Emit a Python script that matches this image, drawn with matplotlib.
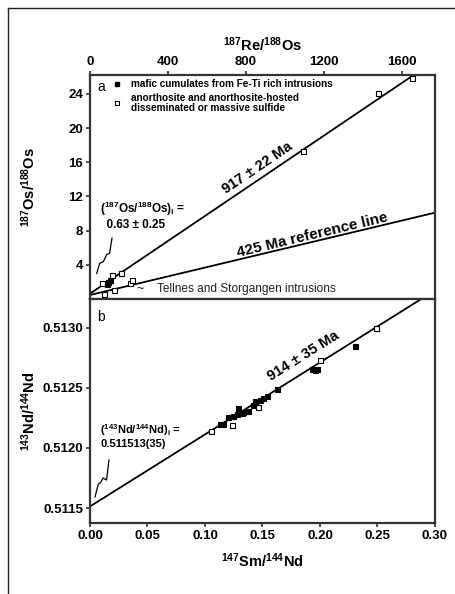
import numpy as np
import matplotlib
matplotlib.use('Agg')
import matplotlib.pyplot as plt
from matplotlib.lines import Line2D

plt.rcParams['font.family'] = ['Liberation Sans', 'DejaVu Sans']
plt.rcParams['mathtext.default'] = 'regular'

# --- Re-Os data (panel a) ---
reos_mafic_x = [86, 94, 103]
reos_mafic_y = [1.7, 2.0, 2.2]
reos_anor_x = [60, 111, 159, 1094, 1478, 1653]
reos_anor_y = [1.85, 2.8, 3.1, 17.3, 24.1, 25.9]
# Tellnes and Storgangen
reos_tel_x = [73, 125, 205, 217]
reos_tel_y = [0.6, 1.0, 1.85, 2.2]

os_initial = 0.63
os_isochron_slope = 0.0154
ref_x = [0, 1770]
ref_y = [0.47, 10.1]

# --- Sm-Nd data (panel b) ---
smnd_mafic_x = [0.113, 0.1154, 0.1203, 0.1247, 0.1275, 0.129, 0.132, 0.1334, 0.1377,
                0.142, 0.1435, 0.1478, 0.1507, 0.1536, 0.1623, 0.1928, 0.1957, 0.197, 0.2304]
smnd_mafic_y = [0.51220, 0.51220, 0.51226, 0.51227, 0.51228, 0.51233, 0.51229, 0.51230, 0.51231,
                0.51236, 0.51239, 0.51240, 0.51242, 0.51243, 0.51249, 0.51266, 0.51265, 0.51266, 0.51285]
smnd_anor_x = [0.1052, 0.1232, 0.1461, 0.2003, 0.2487]
smnd_anor_y = [0.512142, 0.512192, 0.512345, 0.51273, 0.51300]

nd_initial = 0.511513
nd_isochron_slope = 0.005996


def line_label(ax, x, slope, x0, y0, text, offset, size):
    # put a label along a straight line, shifted off it by `offset` points
    y = y0 + slope * (x - x0)
    dx = 1e-3 * ax.get_xlim()[1]
    p1 = ax.transData.transform((x, y))
    p2 = ax.transData.transform((x + dx, y + slope * dx))
    ang = np.degrees(np.arctan2(p2[1] - p1[1], p2[0] - p1[0]))
    a = np.radians(ang)
    ax.annotate(text, xy=(x, y), xytext=(-offset * np.sin(a), offset * np.cos(a)),
                textcoords='offset points', rotation=ang, rotation_mode='anchor',
                ha='center', va='baseline', fontsize=size, fontweight='bold')


fig = plt.figure(figsize=(4.55, 5.94), dpi=100)
axA = fig.add_axes([0.1978, 0.4966, 0.7582, 0.3771])
axB = fig.add_axes([0.1978, 0.1195, 0.7582, 0.3771])

# outer frame lines
fig.add_artist(Line2D([8/455, 8/455], [0, 1 - 8/594], color='#222222', lw=1.0))
fig.add_artist(Line2D([8/455, 1], [1 - 8/594, 1 - 8/594], color='#222222', lw=1.0))

spine_col = '#333333'
for ax in (axA, axB):
    for s in ax.spines.values():
        s.set_linewidth(1.6)
        s.set_color(spine_col)
    ax.tick_params(direction='out', length=3, width=1.2, color=spine_col,
                   labelsize=9.5, pad=2)

ms = 3.6

# panel a
xa = np.array([0, 1800])
axA.plot(xa, os_initial + os_isochron_slope * xa, color='black', lw=1.3, zorder=2)
axA.plot(ref_x, ref_y, color='black', lw=1.3, zorder=2)
axA.plot(reos_anor_x, reos_anor_y, 's', mfc='white', mec='black', ms=ms, mew=0.8, zorder=3)
axA.plot(reos_tel_x, reos_tel_y, 's', mfc='white', mec='black', ms=ms, mew=0.8, zorder=3)
axA.plot(reos_mafic_x, reos_mafic_y, 's', mfc='black', mec='black', ms=ms, mew=0.8, zorder=4)
axA.set_xlim(0, 1770)
axA.set_ylim(0, 26.2)
axA.xaxis.tick_top()
axA.xaxis.set_label_position('top')
axA.set_xticks([0, 400, 800, 1200, 1600])
axA.set_yticks([4, 8, 12, 16, 20, 24])
axA.set_xlabel('$^{187}$Re/$^{188}$Os', fontsize=10.5, fontweight='bold', labelpad=4)
axA.set_ylabel('$^{187}$Os/$^{188}$Os', fontsize=10.5, fontweight='bold')
axA.yaxis.set_label_coords(-0.15, 0.5)
for lab in axA.get_xticklabels() + axA.get_yticklabels():
    lab.set_fontweight('bold')

axA.text(0.02, 0.945, 'a', transform=axA.transAxes, fontsize=10, va='center', ha='left')
axA.plot([0.078], [0.96], 's', color='black', ms=3.0, transform=axA.transAxes)
axA.plot([0.078], [0.875], 's', mfc='white', mec='black', mew=0.8, ms=3.0, transform=axA.transAxes)
axA.text(0.119, 0.96, 'mafic cumulates from Fe-Ti rich intrusions', transform=axA.transAxes,
         fontsize=7.2, fontweight='bold', va='center')
axA.text(0.119, 0.875, 'anorthosite and anorthosite-hosted\ndisseminated or massive sulfide',
         transform=axA.transAxes, fontsize=7.2, fontweight='bold', va='center',
         linespacing=0.9)

line_label(axA, 890, os_isochron_slope, 0, os_initial, '917 \u00b1 22 Ma', 4.5, 10.5)
ref_slope = (ref_y[1] - ref_y[0]) / (ref_x[1] - ref_x[0])
line_label(axA, 1149, ref_slope, ref_x[0], ref_y[0], '425 Ma reference line', 2.2, 11)

axA.text(0.03, 0.375, '($^{187}$Os/$^{188}$Os)$_i$ =\n  0.63 \u00b1 0.25', transform=axA.transAxes,
         fontsize=8.5, fontweight='bold', va='center', ha='left', linespacing=1.1)
axA.plot([0.0638, 0.0568, 0.0487, 0.0386, 0.0280, 0.0193],
         [0.272, 0.205, 0.199, 0.167, 0.159, 0.114], color='black', lw=0.9,
         transform=axA.transAxes)
axA.text(0.135, 0.045, '~', transform=axA.transAxes, fontsize=9, va='center', ha='left')
axA.text(0.194, 0.045, 'Tellnes and Storgangen intrusions', transform=axA.transAxes,
         fontsize=8.6, va='center', ha='left', color='#222222')

# panel b
xb = np.array([0, 0.30])
axB.plot(xb, nd_initial + nd_isochron_slope * xb, color='black', lw=1.3, zorder=2)
axB.plot(smnd_mafic_x, smnd_mafic_y, 's', mfc='black', mec='black', ms=ms, mew=0.8, zorder=3)
axB.plot(smnd_anor_x, smnd_anor_y, 's', mfc='white', mec='black', ms=ms, mew=0.8, zorder=4)
axB.set_xlim(0, 0.30)
axB.set_ylim(0.511375, 0.51324)
axB.set_xticks([0, 0.05, 0.10, 0.15, 0.20, 0.25, 0.30])
axB.set_xticklabels(['0.00', '0.05', '0.10', '0.15', '0.20', '0.25', '0.30'])
axB.set_yticks([0.5115, 0.5120, 0.5125, 0.5130])
axB.set_yticklabels(['0.5115', '0.5120', '0.5125', '0.5130'])
axB.set_xlabel('$^{147}$Sm/$^{144}$Nd', fontsize=10.5, fontweight='bold', labelpad=7)
axB.set_ylabel('$^{143}$Nd/$^{144}$Nd', fontsize=10.5, fontweight='bold')
axB.yaxis.set_label_coords(-0.15, 0.5)
for lab in axB.get_xticklabels() + axB.get_yticklabels():
    lab.set_fontweight('bold')

axB.text(0.02, 0.92, 'b', transform=axB.transAxes, fontsize=10, va='center', ha='left')
line_label(axB, 0.1925, nd_isochron_slope, 0, nd_initial, '914 \u00b1 35 Ma', 7.5, 10.5)
axB.text(0.03, 0.39, '($^{143}$Nd/$^{144}$Nd)$_i$ =\n0.511513(35)', transform=axB.transAxes,
         fontsize=8, fontweight='bold', va='center', ha='left', linespacing=1.1)
axB.plot([0.055, 0.048, 0.038, 0.030, 0.024, 0.0145],
         [0.281, 0.192, 0.201, 0.179, 0.174, 0.116], color='black', lw=0.9,
         transform=axB.transAxes)

fig.savefig('out.png', dpi=100)
